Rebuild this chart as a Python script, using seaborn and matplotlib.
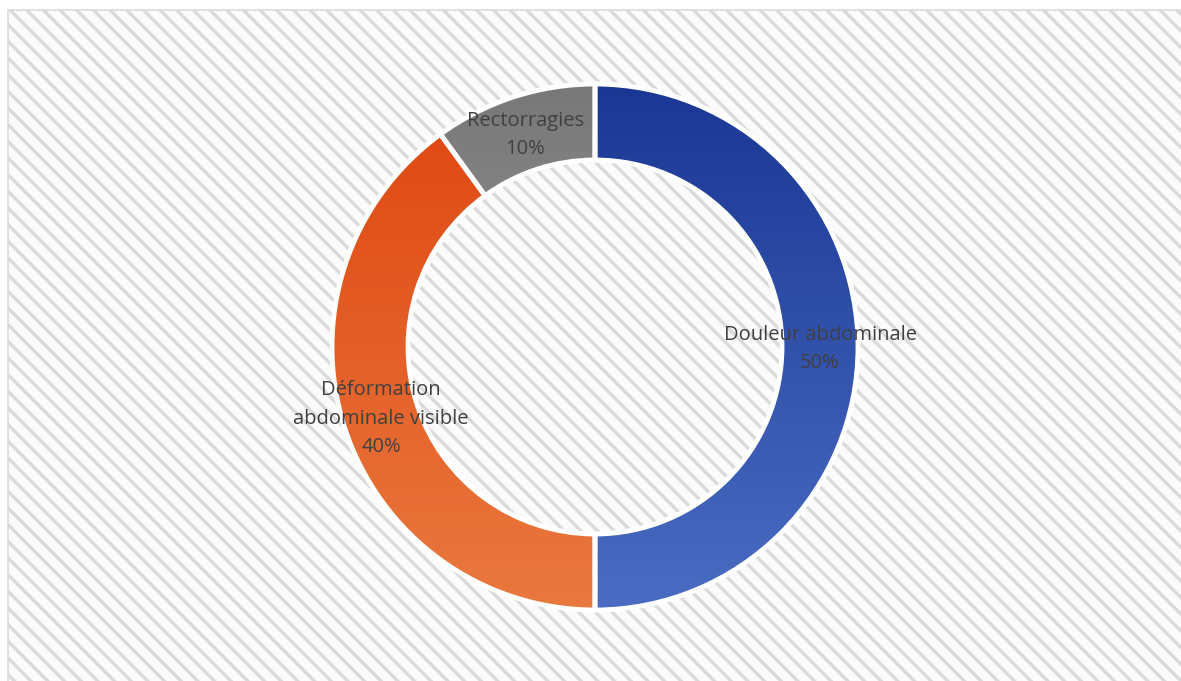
import numpy as np
import matplotlib
matplotlib.use("Agg")
import matplotlib.pyplot as plt
from matplotlib.patches import Rectangle
from matplotlib.colors import LinearSegmentedColormap
import seaborn as sns

# Data
categories = ["Douleur abdominale", "Déformation\nabdominale visible", "Rectorragies"]
values = [50, 40, 10]
pct_labels = ["50%", "40%", "10%"]
grad_top = ["#1a3794", "#df4510", "#787878"]
grad_bottom = ["#4a6cc2", "#e9793f", "#a8a8a8"]

sns.set_style("white")
plt.rcParams["font.family"] = ["Open Sans", "DejaVu Sans"]
plt.rcParams["hatch.linewidth"] = 2.4
plt.rcParams["hatch.color"] = "#e7e7e7"

W, H = 1181, 681
fig = plt.figure(figsize=(W / 100, H / 100), dpi=100)
fig.patch.set_facecolor("white")
ax = fig.add_axes([0, 0, 1, 1])

cx, cy = 595, H - 347
R, ring = 263, 76

# hatched background frame
bg = Rectangle((8, -5), W, H - 10 + 5, facecolor="#fbfbfb", edgecolor="#dadada",
               hatch="\\\\", linewidth=1.2, zorder=0)
ax.add_patch(bg)

wedges, _ = ax.pie(values, center=(cx, cy), radius=R, startangle=90,
                   counterclock=False, frame=True,
                   wedgeprops=dict(width=ring, edgecolor="white", linewidth=3.5,
                                   facecolor="none", zorder=3))

for w, c0, c1 in zip(wedges, grad_top, grad_bottom):
    cmap = LinearSegmentedColormap.from_list("g", [c0, c1])
    grad = np.linspace(0, 1, 256).reshape(-1, 1)
    im = ax.imshow(grad, cmap=cmap, aspect="auto",
                   extent=(cx - R, cx + R, cy - R, cy + R),
                   origin="upper", zorder=2, interpolation="bilinear")
    im.set_clip_path(w)

# labels
mid_r = R - ring / 2
ang = 90.0
for w, cat, p, v in zip(wedges, categories, pct_labels, values):
    span = 360 * v / sum(values)
    mid = np.deg2rad(ang - span / 2)
    ang -= span
    x = cx + mid_r * np.cos(mid)
    y = cy + mid_r * np.sin(mid)
    ax.text(x, y - 2, f"{cat}\n{p}", ha="center", va="center", fontsize=14.5,
            color="#404040", linespacing=1.55, zorder=5)

ax.set_xlim(0, W)
ax.set_ylim(0, H)
ax.set_aspect("auto")
ax.axis("off")

fig.savefig("out.png", dpi=100)
